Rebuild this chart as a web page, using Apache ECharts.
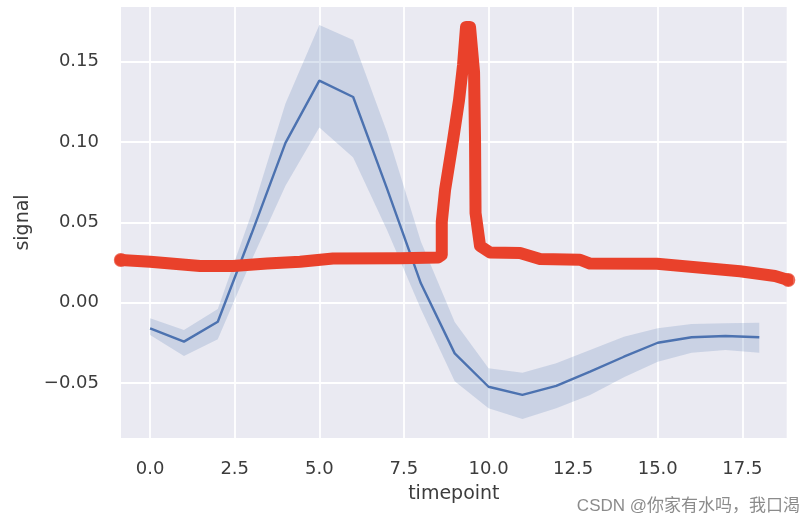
<!DOCTYPE html>
<html>
<head>
<meta charset="utf-8">
<script src="https://cdn.jsdelivr.net/npm/echarts@6/dist/echarts.min.js"></script>
<style>
html,body{margin:0;padding:0;background:#fff;}
#chart{width:810px;height:526px;}
</style>
</head>
<body>
<div id="chart"></div>
<script>
// ---- data ----
const timepoints = [0,1,2,3,4,5,6,7,8,9,10,11,12,13,14,15,16,17,18];
const signalMean = [-0.016,-0.0243,-0.0119,0.043,0.0995,0.1382,0.128,0.071,0.012,-0.0316,-0.0524,-0.0575,-0.0519,-0.043,-0.0337,-0.025,-0.0216,-0.0208,-0.0216];
const signalUpper = [-0.0098,-0.0171,-0.0040,0.0556,0.124,0.1728,0.1635,0.106,0.038,-0.012,-0.0409,-0.0436,-0.0378,-0.0295,-0.0212,-0.016,-0.0133,-0.0129,-0.0125];
const signalLower = [-0.0202,-0.0332,-0.0228,0.0265,0.0727,0.1090,0.0903,0.0452,-0.004,-0.049,-0.0658,-0.0724,-0.0658,-0.0575,-0.0465,-0.0368,-0.0312,-0.0295,-0.0312];
// hand-drawn red stroke, in data units [timepoint, signal]
const redStrokeX = [-0.866,0,1.477,2.452,3.456,4.431,5.406,7.386,8.508,8.618,8.618,8.715,8.951,9.129,9.247,9.335,9.453,9.572,9.601,9.616,9.749,10.044,10.931,11.521,12.703,12.999,14.978,17.43,18.464,18.857];
const redStrokeY = [0.0265,0.0255,0.0228,0.0228,0.0243,0.0255,0.0275,0.0276,0.0281,0.0296,0.0502,0.0701,0.1012,0.1262,0.1479,0.1716,0.1716,0.1436,0.1012,0.0558,0.0352,0.0312,0.0309,0.0271,0.0267,0.0243,0.0242,0.0195,0.0166,0.0141];
const xTicks = [0,2.5,5,7.5,10,12.5,15,17.5];
const yTicks = [-0.05,0,0.05,0.10,0.15];
const xName = 'timepoint';
const yName = 'signal';
const watermark = 'CSDN @你家有水吗，我口渴';

const chart = echarts.init(document.getElementById('chart'), null, {renderer:'canvas'});
const meanData = timepoints.map((t,i)=>[t, signalMean[i]]);
const redData = redStrokeX.map((x,i)=>[x, redStrokeY[i]]);
const redEnds = [redData[0], redData[redData.length-1]];

const FONT = '"DejaVu Sans", Verdana, sans-serif';
const tickFont = {fontFamily:FONT, fontSize:18, color:'#3c3c3c'};
const nameFont = {fontFamily:FONT, fontSize:19, color:'#3c3c3c'};
const fmtY = v => { if (Math.abs(v) < 1e-9) return '0.00'; const s = v.toFixed(2); return s.replace('-', '\u2212'); };

const option = {
  animation:false,
  backgroundColor:'#ffffff',
  grid:{left:121, top:7, right:23.3, bottom:88, show:true, backgroundColor:'#EAEAF2', borderWidth:0, containLabel:false, outerBoundsMode:'none'},
  xAxis:{
    type:'value', min:-0.86, max:18.81, minInterval:2.5, maxInterval:2.5, splitNumber:8,
    name:xName, nameLocation:'middle', nameGap:47, nameTextStyle:nameFont,
    axisLine:{show:false}, axisTick:{show:false},
    axisLabel:Object.assign({margin:22, customValues:xTicks, formatter:v=>v.toFixed(1)}, tickFont),
    splitLine:{show:true, showMinLine:false, showMaxLine:false, lineStyle:{color:'#ffffff', width:1.8}}
  },
  yAxis:{
    type:'value', min:-0.0843, max:0.18406, minInterval:0.05, maxInterval:0.05, splitNumber:5,
    name:yName, nameLocation:'middle', nameGap:86, nameTextStyle:nameFont,
    axisLine:{show:false}, axisTick:{show:false},
    axisLabel:Object.assign({margin:22, customValues:yTicks, formatter:fmtY}, tickFont),
    splitLine:{show:true, showMinLine:false, showMaxLine:false, lineStyle:{color:'#ffffff', width:1.8}}
  },
  series:[
    {type:'custom', silent:true, z:2, data:[[timepoints[0], signalMean[0]]], encode:{x:0, y:1},
     renderItem:function(params, api){
       const pts = [];
       for (let i=0;i<timepoints.length;i++) pts.push(api.coord([timepoints[i], signalUpper[i]]));
       for (let i=timepoints.length-1;i>=0;i--) pts.push(api.coord([timepoints[i], signalLower[i]]));
       return {type:'polygon', shape:{points:pts}, style:{fill:'rgba(76,114,176,0.2)'}};
     }},
    {type:'line', data:meanData, symbol:'none', silent:true,
     lineStyle:{color:'#4C72B0', width:2.4}, z:3},
    {type:'line', data:redData, symbol:'none', silent:true, clip:false,
     lineStyle:{color:'#E9412B', width:12, cap:'round', join:'round'}, z:5},
    {type:'scatter', data:redEnds, symbol:'circle', symbolSize:14, silent:true, clip:false,
     itemStyle:{color:'#E9412B'}, z:5}
  ],
  graphic:[
    {type:'text', right:10, top:498, z:10, silent:true,
     style:{text:watermark, fill:'rgba(110,110,110,0.8)', font:'17px "Liberation Sans", "Noto Sans CJK SC", sans-serif'}}
  ]
};
chart.setOption(option);
</script>
</body>
</html>
